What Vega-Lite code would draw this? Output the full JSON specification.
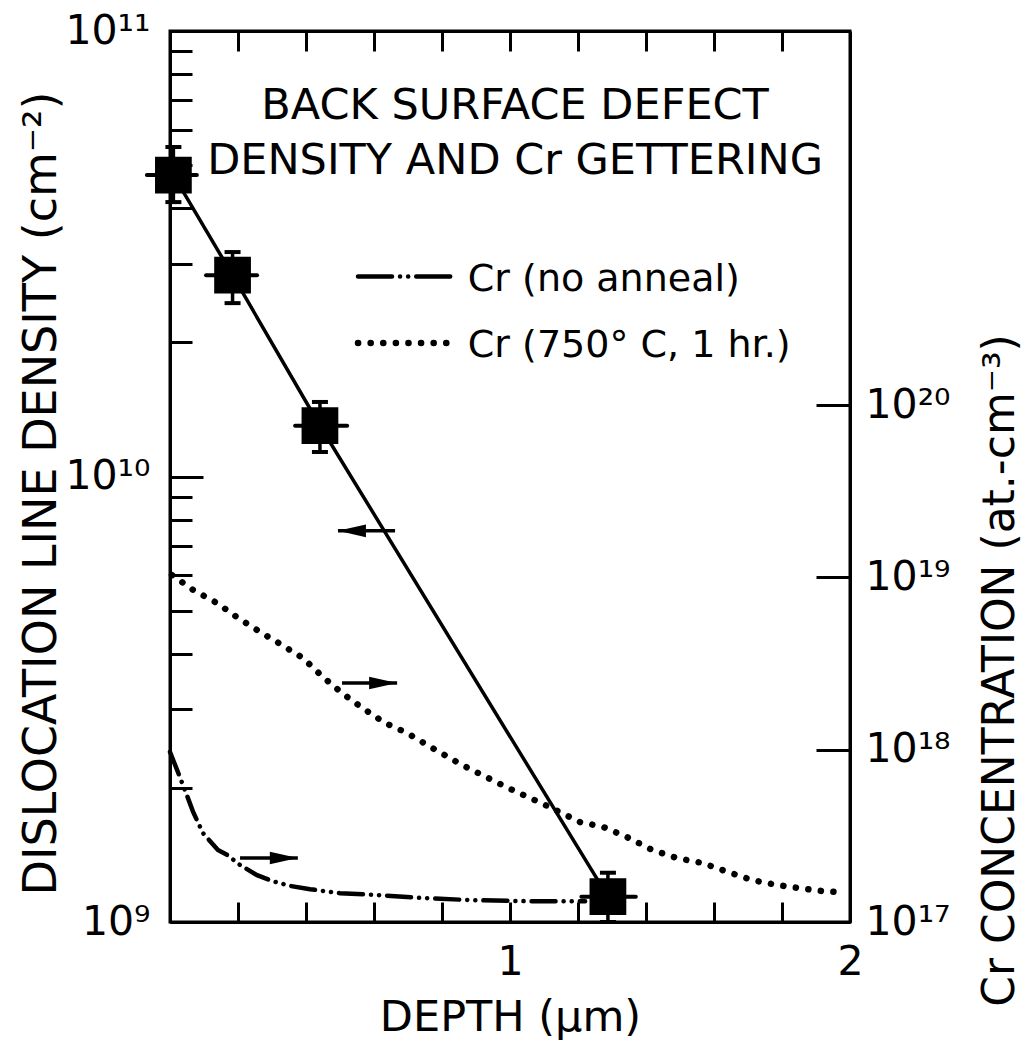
{
  "$schema": "https://vega.github.io/schema/vega-lite/v6.json",
  "width": 680,
  "height": 891,
  "autosize": {"type": "none"},
  "padding": {"left": 170, "top": 31, "right": 177, "bottom": 121},
  "background": "white",
  "config": {
    "view": {"stroke": "black", "strokeWidth": 3},
    "font": "DejaVu Sans",
    "axis": {
      "domainColor": "black", "domainWidth": 3, "tickColor": "black", "tickWidth": 3,
      "labelColor": "black", "titleColor": "black", "labelFont": "DejaVu Sans", "titleFont": "DejaVu Sans",
      "labelFontSize": 41, "titleFontSize": 44, "titleFontWeight": "normal", "grid": false,
      "labelOverlap": false, "labelFlush": false, "labelBound": false
    }
  },
  "datasets": {
    "disl": [
      {"x": 0.01, "y": 4.75e10, "ylo": 4.13e10, "yhi": 5.49e10, "xlo": -0.068, "xhi": 0.079},
      {"x": 0.184, "y": 2.83e10, "ylo": 2.45e10, "yhi": 3.19e10, "xlo": 0.106, "xhi": 0.256},
      {"x": 0.441, "y": 1.30e10, "ylo": 1.135e10, "yhi": 1.47e10, "xlo": 0.368, "xhi": 0.521},
      {"x": 1.288, "y": 1.14e9, "ylo": 1.0e9, "yhi": 1.29e9, "xlo": 1.21, "xhi": 1.37}
    ],
    "noanneal": [
      {"x": 0.0, "c": 9.70e17}, {"x": 0.044, "c": 5.83e17}, {"x": 0.068, "c": 4.35e17},
      {"x": 0.097, "c": 3.28e17}, {"x": 0.141, "c": 2.62e17}, {"x": 0.168, "c": 2.45e17},
      {"x": 0.206, "c": 2.14e17}, {"x": 0.256, "c": 1.87e17}, {"x": 0.300, "c": 1.73e17},
      {"x": 0.353, "c": 1.62e17}, {"x": 0.412, "c": 1.55e17}, {"x": 0.5, "c": 1.47e17},
      {"x": 0.618, "c": 1.43e17}, {"x": 0.735, "c": 1.38e17}, {"x": 0.882, "c": 1.34e17},
      {"x": 1.059, "c": 1.32e17}, {"x": 1.221, "c": 1.32e17}
    ],
    "annealed": [
      {"x": 0.006, "c": 1.03e19}, {"x": 0.068, "c": 8.45e18}, {"x": 0.138, "c": 7.10e18},
      {"x": 0.2, "c": 5.81e18}, {"x": 0.265, "c": 4.82e18}, {"x": 0.329, "c": 4.05e18},
      {"x": 0.391, "c": 3.40e18}, {"x": 0.45, "c": 2.64e18}, {"x": 0.506, "c": 2.13e18},
      {"x": 0.565, "c": 1.75e18}, {"x": 0.632, "c": 1.43e18}, {"x": 0.697, "c": 1.25e18},
      {"x": 0.765, "c": 1.04e18}, {"x": 0.859, "c": 8.15e17}, {"x": 0.994, "c": 6.00e17},
      {"x": 1.103, "c": 4.78e17}, {"x": 1.206, "c": 3.80e17}, {"x": 1.274, "c": 3.56e17},
      {"x": 1.344, "c": 3.11e17}, {"x": 1.418, "c": 2.62e17}, {"x": 1.491, "c": 2.35e17},
      {"x": 1.565, "c": 2.20e17}, {"x": 1.641, "c": 1.95e17}, {"x": 1.712, "c": 1.75e17},
      {"x": 1.785, "c": 1.64e17}, {"x": 1.853, "c": 1.57e17}, {"x": 1.921, "c": 1.51e17},
      {"x": 1.971, "c": 1.49e17}
    ],
    "arrows": [
      {"x1": 0.494, "x2": 0.662, "y": 7.55e9, "dir": "left"},
      {"x1": 0.506, "x2": 0.668, "y": 3.44e9, "dir": "right"},
      {"x1": 0.206, "x2": 0.376, "y": 1.392e9, "dir": "right"}
    ],
    "titles": [
      {"x": 1.015, "y": 6.79e10, "t": "BACK SURFACE DEFECT"},
      {"x": 1.015, "y": 5.11e10, "t": "DENSITY AND Cr GETTERING"}
    ],
    "legendText": [
      {"x": 0.876, "y": 2.76e10, "t": "Cr (no anneal)"},
      {"x": 0.876, "y": 1.96e10, "t": "Cr (750° C, 1 hr.)"}
    ],
    "legendA": [{"x": 0.553, "y": 2.81e10}, {"x": 0.838, "y": 2.81e10}],
    "legendB": [{"x": 0.553, "y": 1.995e10}, {"x": 0.838, "y": 1.995e10}]
  },
  "layer": [
    {
      "layer": [
        {
          "data": {"name": "disl"},
          "mark": {"type": "line", "color": "black", "strokeWidth": 3.5},
          "encoding": {
            "x": {
              "field": "x", "type": "quantitative",
              "scale": {"domain": [0, 2], "nice": false, "zero": false},
              "axis": {
                "orient": "bottom",
                "values": [0.2, 0.4, 0.6, 0.8, 1, 1.2, 1.4, 1.6, 1.8, 2],
                "labelExpr": "datum.value == 1 ? '1' : datum.value == 2 ? '2' : ''",
                "tickSize": -20, "labelPadding": 60, "labelBaseline": "middle", "labelAlign": "center",
                "title": "DEPTH (μm)", "titleY": 108, "titleBaseline": "alphabetic", "titleFontSize": 43
              }
            },
            "y": {
              "field": "y", "type": "quantitative",
              "scale": {"type": "log", "domain": [1e9, 1e11], "nice": false},
              "axis": {
                "orient": "left",
                "values": [1e9, 2e9, 3e9, 4e9, 5e9, 6e9, 7e9, 8e9, 9e9, 1e10, 2e10, 3e10, 4e10, 5e10, 6e10, 7e10, 8e10, 9e10, 1e11],
                "labelExpr": "datum.value == 1e9 ? '10⁹' : datum.value == 1e10 ? '10¹⁰' : datum.value == 1e11 ? '10¹¹' : ''",
                "tickSize": {"condition": {"test": "datum.value == 1e9 || datum.value == 1e10 || datum.value == 1e11", "value": -33}, "value": -22},
                "labelPadding": 53, "labelBaseline": "middle", "labelAlign": "right",
                "title": "DISLOCATION LINE DENSITY (cm⁻²)", "titleFontSize": 46, "titleX": -129, "titleY": 462,
                "titleAngle": 270, "titleAlign": "center", "titleBaseline": "middle"
              }
            }
          }
        },
        {
          "data": {"name": "disl"},
          "mark": {"type": "rule", "color": "black", "strokeWidth": 3.5},
          "encoding": {
            "x": {"field": "x", "type": "quantitative"},
            "y": {"field": "ylo", "type": "quantitative"},
            "y2": {"field": "yhi"}
          }
        },
        {
          "data": {"name": "disl"},
          "mark": {"type": "rule", "color": "black", "strokeWidth": 4, "strokeCap": "round"},
          "encoding": {
            "x": {"field": "xlo", "type": "quantitative"},
            "x2": {"field": "xhi"},
            "y": {"field": "y", "type": "quantitative"}
          }
        },
        {
          "data": {"name": "disl"},
          "mark": {"type": "tick", "orient": "horizontal", "color": "black", "size": 16, "thickness": 4, "opacity": 1},
          "encoding": {
            "x": {"field": "x", "type": "quantitative"},
            "y": {"field": "ylo", "type": "quantitative"}
          }
        },
        {
          "data": {"name": "disl"},
          "mark": {"type": "tick", "orient": "horizontal", "color": "black", "size": 16, "thickness": 4, "opacity": 1},
          "encoding": {
            "x": {"field": "x", "type": "quantitative"},
            "y": {"field": "yhi", "type": "quantitative"}
          }
        },
        {
          "data": {"name": "disl"},
          "mark": {"type": "point", "shape": "square", "filled": true, "color": "black", "size": 1350, "opacity": 1},
          "encoding": {
            "x": {"field": "x", "type": "quantitative"},
            "y": {"field": "y", "type": "quantitative"}
          }
        },
        {
          "data": {"name": "arrows"},
          "mark": {"type": "rule", "color": "black", "strokeWidth": 3.5},
          "encoding": {
            "x": {"field": "x1", "type": "quantitative"},
            "x2": {"field": "x2"},
            "y": {"field": "y", "type": "quantitative"}
          }
        },
        {
          "data": {"name": "arrows"},
          "transform": [{"filter": "datum.dir == 'left'"}],
          "mark": {"type": "point", "shape": "M0,0L2,-0.45L2,0.45Z", "filled": true, "color": "black", "size": 784, "opacity": 1, "strokeWidth": 0},
          "encoding": {
            "x": {"field": "x1", "type": "quantitative"},
            "y": {"field": "y", "type": "quantitative"}
          }
        },
        {
          "data": {"name": "arrows"},
          "transform": [{"filter": "datum.dir == 'right'"}],
          "mark": {"type": "point", "shape": "M0,0L-2,-0.45L-2,0.45Z", "filled": true, "color": "black", "size": 784, "opacity": 1, "strokeWidth": 0},
          "encoding": {
            "x": {"field": "x2", "type": "quantitative"},
            "y": {"field": "y", "type": "quantitative"}
          }
        },
        {
          "data": {"name": "legendA"},
          "mark": {"type": "line", "color": "black", "strokeWidth": 4.5, "strokeCap": "round", "strokeDash": [34, 8, 0.1, 8, 0.1, 8]},
          "encoding": {
            "x": {"field": "x", "type": "quantitative"},
            "y": {"field": "y", "type": "quantitative"}
          }
        },
        {
          "data": {"name": "legendB"},
          "mark": {"type": "line", "color": "black", "strokeWidth": 6.5, "strokeCap": "round", "strokeDash": [0.1, 12.5]},
          "encoding": {
            "x": {"field": "x", "type": "quantitative"},
            "y": {"field": "y", "type": "quantitative"}
          }
        },
        {
          "data": {"name": "titles"},
          "mark": {"type": "text", "font": "DejaVu Sans", "fontSize": 43, "align": "center", "baseline": "middle", "color": "black"},
          "encoding": {
            "x": {"field": "x", "type": "quantitative"},
            "y": {"field": "y", "type": "quantitative"},
            "text": {"field": "t"}
          }
        },
        {
          "data": {"name": "legendText"},
          "mark": {"type": "text", "font": "DejaVu Sans", "fontSize": 38, "align": "left", "baseline": "middle", "color": "black"},
          "encoding": {
            "x": {"field": "x", "type": "quantitative"},
            "y": {"field": "y", "type": "quantitative"},
            "text": {"field": "t"}
          }
        }
      ]
    },
    {
      "layer": [
        {
          "data": {"name": "noanneal"},
          "mark": {"type": "line", "color": "black", "strokeWidth": 4.5, "strokeCap": "round", "strokeDash": [24, 8, 0.1, 8, 0.1, 8]},
          "encoding": {
            "x": {
              "field": "x", "type": "quantitative",
              "scale": {"domain": [0, 2], "nice": false, "zero": false},
              "axis": {
                "orient": "top",
                "values": [0.2, 0.4, 0.6, 0.8, 1, 1.2, 1.4, 1.6, 1.8],
                "labels": false, "tickSize": -20, "title": null
              }
            },
            "y": {
              "field": "c", "type": "quantitative",
              "scale": {"type": "log", "domain": [1e17, 1.48e22], "nice": false},
              "axis": {
                "orient": "right",
                "values": [1e17, 1e18, 1e19, 1e20],
                "labelExpr": "datum.value == 1e17 ? '10¹⁷' : datum.value == 1e18 ? '10¹⁸' : datum.value == 1e19 ? '10¹⁹' : '10²⁰'",
                "tickSize": -34, "labelPadding": 49, "labelAlign": "left", "labelBaseline": "middle",
                "title": "Cr CONCENTRATION (at.-cm⁻³)", "titleAngle": 270, "titleX": 150, "titleY": 639,
                "titleAlign": "center", "titleBaseline": "middle"
              }
            }
          }
        },
        {
          "data": {"name": "annealed"},
          "mark": {"type": "line", "color": "black", "strokeWidth": 6.5, "strokeCap": "round", "strokeDash": [0.1, 12.5]},
          "encoding": {
            "x": {"field": "x", "type": "quantitative"},
            "y": {"field": "c", "type": "quantitative"}
          }
        }
      ]
    }
  ],
  "resolve": {"scale": {"y": "independent"}, "axis": {"x": "independent"}}
}
